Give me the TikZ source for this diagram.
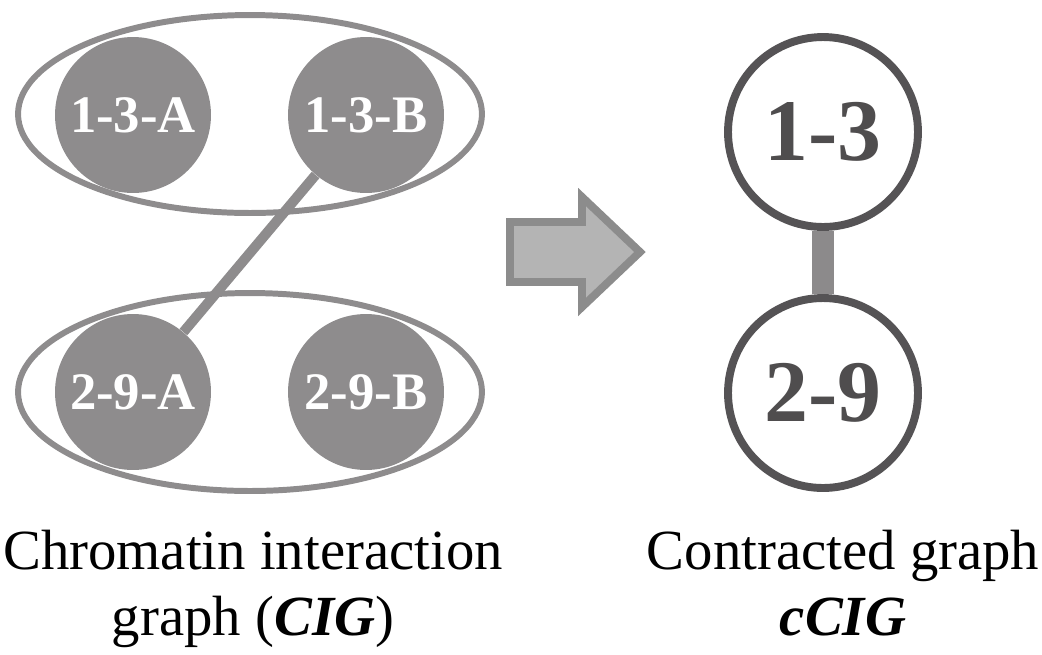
\documentclass[tikz,border=0pt]{standalone}
\usepackage{fontspec}
\setmainfont{Liberation Serif}
\usepackage{tikz}
\usetikzlibrary{shapes.geometric,backgrounds}
\definecolor{blobgray}{HTML}{8E8C8D}
\definecolor{inkgray}{HTML}{4F4D4E}
\definecolor{ringgray}{HTML}{555355}
\definecolor{linkgray}{HTML}{8C8A8B}
\definecolor{arrowfill}{HTML}{B4B4B4}
\definecolor{arrowline}{HTML}{8C8C8C}

\begin{document}
\begin{tikzpicture}[
			x=0.02cm,y=-0.02cm,
			frag/.style={circle,fill=blobgray,minimum size=3.12cm,inner sep=0pt,text=white,font=\fontsize{30}{32}\selectfont\bfseries},
			group/.style={draw=blobgray,line width=3.4pt},
			contig/.style={circle,draw=ringgray,line width=4.5pt,fill=white,minimum size=3.8cm,inner sep=0pt,text=inkgray,font=\fontsize{50}{52}\selectfont\bfseries},
			caption/.style={align=center,font=\fontsize{32.3}{37.4}\selectfont,inner sep=0pt}
			]
			\useasboundingbox (0,0) rectangle (1042,654);
			% chromatin interaction graph
			\draw[group] (250,114) ellipse [x radius=4.64cm,y radius=1.98cm];
			\draw[group] (250,392) ellipse [x radius=4.64cm,y radius=1.98cm];
			\node[frag] (a13) at (133,115) {1-3-A};
			\node[frag] (b13) at (366,115) {1-3-B};
			\node[frag] (a29) at (133,392) {2-9-A};
			\node[frag] (b29) at (366,392) {2-9-B};
			\draw[blobgray,line width=5.7pt] (b13)--(a29);
			% block arrow
			\draw[arrowline,fill=arrowfill,line width=4.5pt,line join=miter]
				(510,222)--(582,222)--(582,197)--(640,252)--(582,307)--(582,282)--(510,282)--cycle;
			% contracted graph
			\node[contig] (c13) at (823,132) {1-3};
			\node[contig] (c29) at (823,393) {2-9};
			\begin{scope}[on background layer]
				\draw[linkgray,line width=13pt] (c13)--(c29);
			\end{scope}
			\node[caption,anchor=north] (cig) at (253,530) {Chromatin interaction\\graph (\textbf{\textit{CIG}})};
			\node[caption,anchor=north] (ccig) at (843,530) {Contracted graph\\\textbf{\textit{cCIG}}};
		\end{tikzpicture}
\end{document}
